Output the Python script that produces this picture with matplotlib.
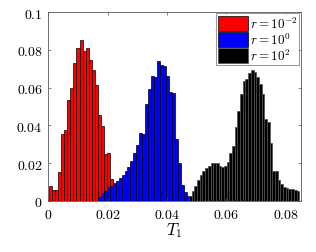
import numpy as np
import matplotlib
matplotlib.use('Agg')
import matplotlib.pyplot as plt
from matplotlib.ticker import FuncFormatter

plt.rcParams['mathtext.fontset'] = 'cm'

# histogram heights, one value per bin
red_start, red_stop = 0.00024, 0.02178
red_vals = [0.0081, 0.0058, 0.0058, 0.0152, 0.0354, 0.0377, 0.0534, 0.0596, 0.0730,
            0.0810, 0.0850, 0.0792, 0.0810, 0.0746, 0.0695, 0.0614, 0.0455, 0.0398,
            0.0249, 0.0252, 0.0116]

blue_start, blue_stop = 0.01663, 0.0477
blue_vals = [0.0023, 0.0040, 0.0055, 0.0072, 0.0081, 0.0093, 0.0108, 0.0122, 0.0140,
             0.0160, 0.0180, 0.0210, 0.0256, 0.0298, 0.0358, 0.0354, 0.0513, 0.0593,
             0.0663, 0.0654, 0.0742, 0.0720, 0.0716, 0.0663, 0.0578, 0.0570, 0.0330,
             0.0200, 0.0085, 0.0050, 0.0028]

black_start, black_stop = 0.04737, 0.08451
black_vals = [0.0028, 0.0055, 0.0081, 0.0111, 0.0139, 0.0160, 0.0175, 0.0187, 0.0199,
              0.0203, 0.0199, 0.0187, 0.0182, 0.0187, 0.0205, 0.0252, 0.0293, 0.0393,
              0.0478, 0.0566, 0.0637, 0.0646, 0.0676, 0.0693, 0.0680, 0.0654, 0.0619,
              0.0566, 0.0434, 0.0416, 0.0305, 0.0157, 0.0157, 0.0111, 0.0090, 0.0076,
              0.0069, 0.0063, 0.0063, 0.0058, 0.0051]

labels = [r'$r = 10^{-2}$', r'$r = 10^{0}$', r'$r = 10^{2}$']
colors = ['#ff0000', '#0000ff', '#000000']
edges_c = ['k', 'k', '0.3']

series = [(red_start, red_stop, red_vals),
          (blue_start, blue_stop, blue_vals),
          (black_start, black_stop, black_vals)]

fig = plt.figure(figsize=(3.16, 2.53), dpi=100)
ax = fig.add_axes([0.153, 0.2016, 0.7986, 0.747])

for (lo, hi, vals), c, ec, lab in zip(series, colors, edges_c, labels):
    edges = np.linspace(lo, hi, len(vals) + 1)
    ax.bar(edges[:-1], vals, width=np.diff(edges), align='edge',
           color=c, edgecolor=ec, linewidth=0.5, label=lab)

ax.set_xlim(0, 0.085)
ax.set_ylim(0, 0.1)
ax.set_xticks([0, 0.02, 0.04, 0.06, 0.08])
ax.set_yticks([0, 0.02, 0.04, 0.06, 0.08, 0.1])
fmt = FuncFormatter(lambda v, p: '$%g$' % round(v, 4))
ax.xaxis.set_major_formatter(fmt)
ax.yaxis.set_major_formatter(fmt)
ax.tick_params(direction='in', length=2.5, width=0.5, color='0.35',
               top=True, right=True, labelsize=10, pad=4)
for s in ax.spines.values():
    s.set_color('0.35')
    s.set_linewidth(0.6)

ax.set_xlabel(r'$T_1$', fontsize=12, labelpad=0)

leg = ax.legend(loc='upper right', fontsize=9.5, frameon=True, fancybox=False,
                handlelength=2.3, handleheight=1.4, handletextpad=0.1,
                labelspacing=0.05, borderpad=0.15, borderaxespad=0.1)
leg.get_frame().set_edgecolor('0.4')
leg.get_frame().set_linewidth(0.6)

plt.savefig('out.png', dpi=100)
